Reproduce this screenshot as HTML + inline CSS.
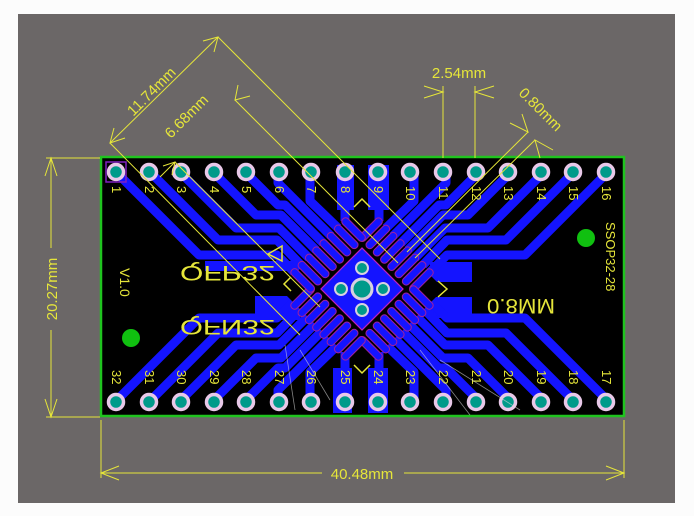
<!DOCTYPE html>
<html><head><meta charset="utf-8"><style>
html,body{margin:0;padding:0;background:#fff;}
svg{display:block}
text{font-family:"Liberation Sans",sans-serif;fill:#e6e63a}
</style></head><body>
<svg width="694" height="516" viewBox="0 0 694 516" xmlns="http://www.w3.org/2000/svg">
<rect x="0" y="0" width="694" height="516" fill="#fcfcfc"/>
<rect x="18" y="14" width="657" height="489" fill="#6b6767"/>
<rect x="101" y="157" width="523" height="259" fill="#000" stroke="#1fc41f" stroke-width="2.5"/>

<g fill="#1414ff">
<rect x="205" y="261" width="95" height="10"/>
<rect x="255" y="296" width="45" height="24"/>
<rect x="430" y="262" width="42" height="20"/>
<rect x="430" y="297" width="42" height="21"/>
<rect x="337" y="165" width="17" height="45"/>
<rect x="368" y="165" width="21" height="45"/>
<rect x="333" y="368" width="19" height="45"/>
<rect x="368" y="368" width="20" height="45"/>
</g>

<g id="tl" fill="none" stroke="#1414ff" stroke-width="9" stroke-linejoin="round">
<polyline points="116,172 199,255 277,255 294,272"/>
<polyline points="150,172 218,240 277,240 301,265"/>
<polyline points="180,172 236,228 279,228 309,258"/>
<polyline points="213,172 256,215 281,215 316,250"/>
<polyline points="245,172 278,205 285,205 323,243"/>
<polyline points="278,172 278,183 331,236"/>
<polyline points="310,172 310,201 338,228"/>
<polyline points="345,172 345,221"/>
</g>
<use href="#tl" transform="translate(724,0) scale(-1,1)"/>
<g transform="translate(0,573) scale(1,-1)">
<use href="#tl"/>
<use href="#tl" transform="translate(724,0) scale(-1,1)"/>
</g>

<g transform="translate(362,289) rotate(45)">
<rect x="-58" y="-58" width="116" height="116" fill="#000"/>
<g id="padrow" fill="#1414ff" stroke="#a020a0" stroke-width="1">
<rect x="-39.7" y="-63" width="7.5" height="30" rx="3.5"/>
<rect x="-29.4" y="-63" width="7.5" height="30" rx="3.5"/>
<rect x="-19.1" y="-63" width="7.5" height="30" rx="3.5"/>
<rect x="-8.8" y="-63" width="7.5" height="30" rx="3.5"/>
<rect x="1.4" y="-63" width="7.5" height="30" rx="3.5"/>
<rect x="11.7" y="-63" width="7.5" height="30" rx="3.5"/>
<rect x="22" y="-63" width="7.5" height="30" rx="3.5"/>
<rect x="32.3" y="-63" width="7.5" height="30" rx="3.5"/>
</g>
<use href="#padrow" transform="rotate(90)"/>
<use href="#padrow" transform="rotate(180)"/>
<use href="#padrow" transform="rotate(270)"/>
<rect x="-29" y="-29" width="58" height="58" fill="#1414ff" stroke="#c020c0" stroke-width="1.2"/>
</g>
<g stroke="#d8d0e0" fill="#009a8a">
<circle cx="362" cy="289" r="10" stroke-width="3"/>
<circle cx="362" cy="268" r="6" stroke-width="2"/>
<circle cx="341" cy="289" r="6" stroke-width="2"/>
<circle cx="383" cy="289" r="6" stroke-width="2"/>
<circle cx="362" cy="310" r="6" stroke-width="2"/>
</g>

<g id="pins" fill="#009a8a" stroke="#e8c8e8" stroke-width="3.5">
<circle cx="116" cy="172" r="7.5"/><circle cx="149" cy="172" r="7.5"/><circle cx="181" cy="172" r="7.5"/><circle cx="214" cy="172" r="7.5"/>
<circle cx="246" cy="172" r="7.5"/><circle cx="279" cy="172" r="7.5"/><circle cx="311" cy="172" r="7.5"/><circle cx="345" cy="172" r="7.5"/>
<circle cx="378" cy="172" r="7.5"/><circle cx="410" cy="172" r="7.5"/><circle cx="443" cy="172" r="7.5"/><circle cx="476" cy="172" r="7.5"/>
<circle cx="508" cy="172" r="7.5"/><circle cx="541" cy="172" r="7.5"/><circle cx="573" cy="172" r="7.5"/><circle cx="606" cy="172" r="7.5"/>
</g>
<use href="#pins" transform="translate(0,230)"/>
<rect x="106" y="162" width="20" height="20" fill="none" stroke="#8020c0" stroke-width="1.5"/>

<circle cx="131" cy="338" r="9" fill="#10c010"/>
<circle cx="586" cy="238" r="9" fill="#10c010"/>

<g font-size="13">
<text transform="translate(112,186) rotate(90)">1</text>
<text transform="translate(145,186) rotate(90)">2</text>
<text transform="translate(177,186) rotate(90)">3</text>
<text transform="translate(210,186) rotate(90)">4</text>
<text transform="translate(242,186) rotate(90)">5</text>
<text transform="translate(275,186) rotate(90)">6</text>
<text transform="translate(307,186) rotate(90)">7</text>
<text transform="translate(341,186) rotate(90)">8</text>
<text transform="translate(374,186) rotate(90)">9</text>
<text transform="translate(406,186) rotate(90)">10</text>
<text transform="translate(439,186) rotate(90)">11</text>
<text transform="translate(472,186) rotate(90)">12</text>
<text transform="translate(504,186) rotate(90)">13</text>
<text transform="translate(537,186) rotate(90)">14</text>
<text transform="translate(569,186) rotate(90)">15</text>
<text transform="translate(602,186) rotate(90)">16</text>
<text transform="translate(112,370) rotate(90)">32</text>
<text transform="translate(145,370) rotate(90)">31</text>
<text transform="translate(177,370) rotate(90)">30</text>
<text transform="translate(210,370) rotate(90)">29</text>
<text transform="translate(242,370) rotate(90)">28</text>
<text transform="translate(275,370) rotate(90)">27</text>
<text transform="translate(307,370) rotate(90)">26</text>
<text transform="translate(341,370) rotate(90)">25</text>
<text transform="translate(374,370) rotate(90)">24</text>
<text transform="translate(406,370) rotate(90)">23</text>
<text transform="translate(439,370) rotate(90)">22</text>
<text transform="translate(472,370) rotate(90)">21</text>
<text transform="translate(504,370) rotate(90)">20</text>
<text transform="translate(537,370) rotate(90)">19</text>
<text transform="translate(569,370) rotate(90)">18</text>
<text transform="translate(602,370) rotate(90)">17</text>
</g>

<g font-size="21">
<text transform="translate(180,250) scale(1,-1)" y="-16" textLength="95" lengthAdjust="spacingAndGlyphs">QFP32</text>
<text transform="translate(180,304) scale(1,-1)" y="-16" textLength="95" lengthAdjust="spacingAndGlyphs">QFN32</text>
<text transform="translate(487,282) scale(1,-1)" y="-17" textLength="68" lengthAdjust="spacingAndGlyphs">0.8MM</text>
</g>
<text transform="translate(120,268) rotate(90)" font-size="14">V1.0</text>
<text transform="translate(606,222) rotate(90)" font-size="13">SSOP32-28</text>

<g fill="none" stroke="#e6e63a" stroke-width="1.5">
<polyline points="354,207 362,199 370,207"/>
<polyline points="291,277 284,284 291,291"/>
<polyline points="438,281 447,289 438,297"/>
<polyline points="354,365 362,373 370,365"/>
<polygon points="268,254 282,246 282,261"/>
</g>

<g stroke="#e6e63a" stroke-width="1" fill="none">
<line x1="101" y1="420" x2="101" y2="478"/>
<line x1="624" y1="420" x2="624" y2="478"/>
<line x1="101" y1="473" x2="322" y2="473"/>
<line x1="404" y1="473" x2="624" y2="473"/>
<polyline points="119,466 101,473 119,480"/>
<polyline points="606,466 624,473 606,480"/>
<line x1="46" y1="158" x2="100" y2="158"/>
<line x1="46" y1="417" x2="100" y2="417"/>
<line x1="51" y1="158" x2="51" y2="248"/>
<line x1="51" y1="330" x2="51" y2="417"/>
<polyline points="45,176 51,158 57,176"/>
<polyline points="45,399 51,417 57,399"/>
<line x1="443" y1="86" x2="443" y2="158"/>
<line x1="475" y1="86" x2="475" y2="158"/>
<polyline points="424,86 443,92 424,98"/>
<polyline points="494,86 475,92 494,98"/>
<line x1="110" y1="143" x2="218" y2="37"/>
<polyline points="114,128 110,143 125,138"/>
<polyline points="203,41 218,37 214,52"/>
<line x1="218" y1="37" x2="440" y2="259"/>
<line x1="110" y1="143" x2="300" y2="335"/>
<line x1="235" y1="100" x2="398" y2="263"/>
<polyline points="238,85 235,100 250,96"/>
<line x1="175" y1="162" x2="320" y2="307"/>
<line x1="160" y1="177" x2="175" y2="162"/>
<polyline points="172,175 175,162 163,166"/>
<line x1="528" y1="132" x2="407" y2="252"/>
<line x1="535" y1="140" x2="415" y2="258"/>
<polyline points="510,123 528,132 522,114"/>
<polyline points="553,150 535,140 540,158"/>
</g>
<g stroke="#dddddd" stroke-width="0.8" fill="none" opacity="0.6">
<line x1="285" y1="345" x2="295" y2="410"/>
<line x1="300" y1="350" x2="330" y2="400"/>
<line x1="420" y1="350" x2="470" y2="415"/>
<line x1="440" y1="360" x2="520" y2="410"/>
</g>

<text x="362" y="479" font-size="15" text-anchor="middle">40.48mm</text>
<text transform="translate(57,289) rotate(-90)" font-size="15" text-anchor="middle">20.27mm</text>
<text x="459" y="78" font-size="15" text-anchor="middle">2.54mm</text>
<text transform="translate(537,113) rotate(45)" font-size="15" text-anchor="middle">0.80mm</text>
<text transform="translate(155,95) rotate(-45)" font-size="15" text-anchor="middle">11.74mm</text>
<text transform="translate(190,120) rotate(-45)" font-size="15" text-anchor="middle">6.68mm</text>
</svg>
</body></html>
